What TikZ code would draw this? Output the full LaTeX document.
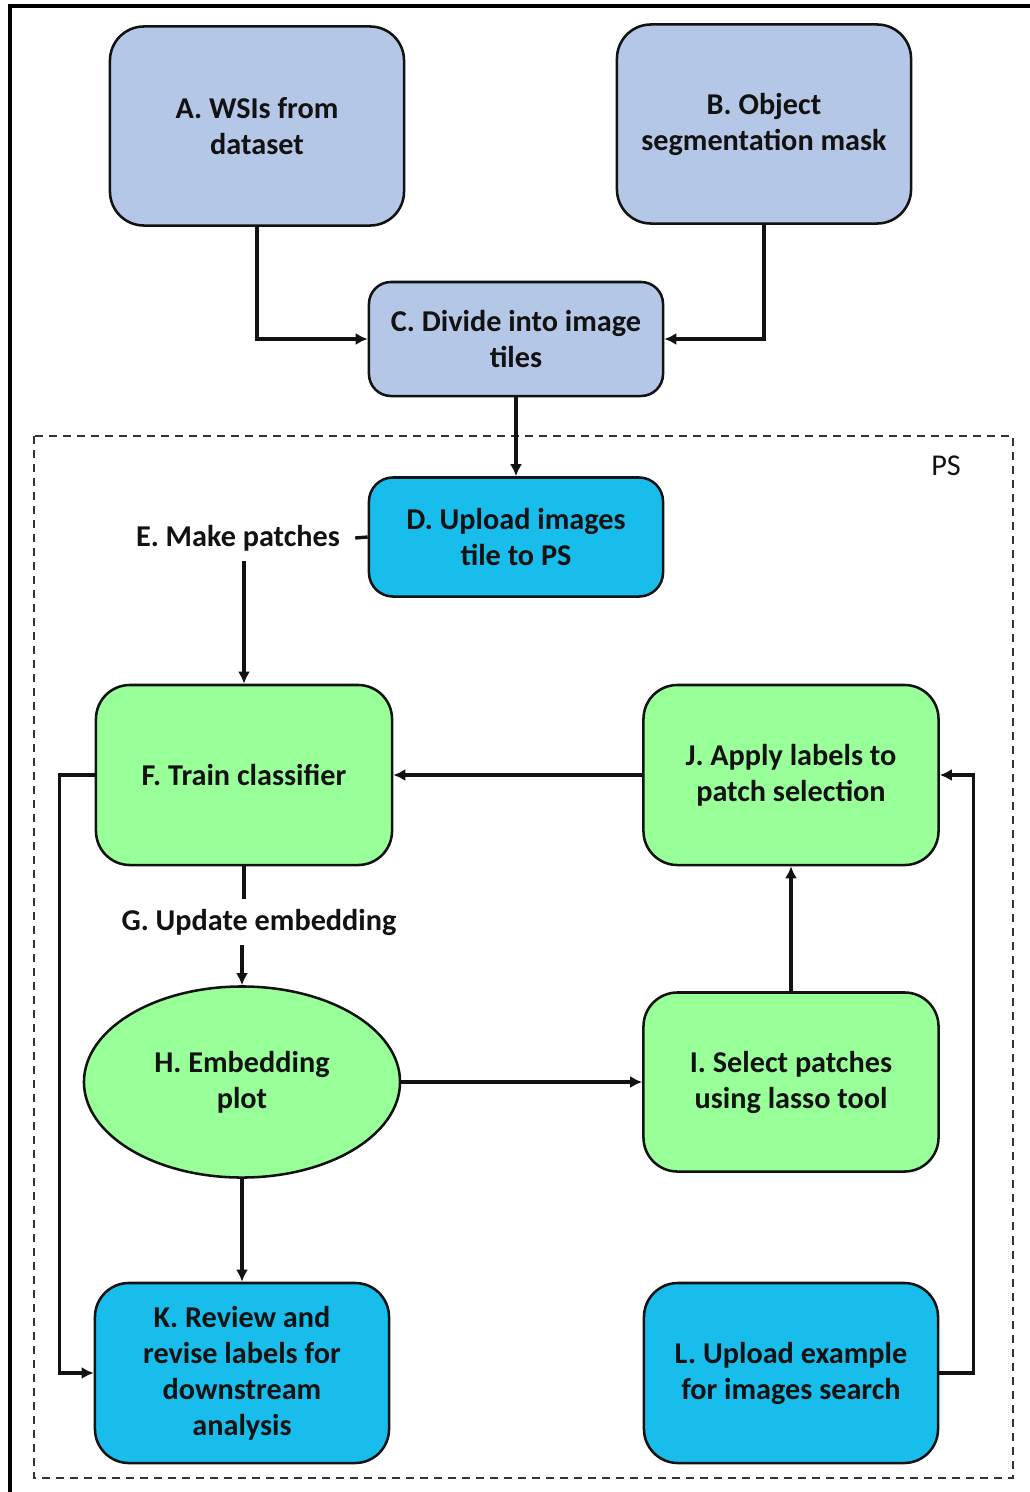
\documentclass[tikz,border=0pt]{standalone}
\usepackage{fontspec}
\setmainfont{Carlito}
\usepackage{xcolor}
\usetikzlibrary{arrows.meta,positioning,shapes.geometric,calc}
\definecolor{Ink}{HTML}{121212}
\definecolor{SoftBlue}{HTML}{B4C7E7}
\definecolor{Cyan}{HTML}{19BDEC}
\definecolor{SoftGreen}{HTML}{99FF99}
\definecolor{DashGrey}{HTML}{333333}
\tikzset{
  boxfont/.style={font=\fontsize{21.5}{25.6}\selectfont\bfseries,text=Ink,align=center},
  source/.style={boxfont,draw=Ink,fill=SoftBlue,line width=1.8pt,rounded corners=0.85cm,minimum width=7.35cm,minimum height=4.975cm},
  prep/.style={boxfont,draw=Ink,fill=SoftBlue,line width=1.8pt,rounded corners=0.55cm,minimum width=7.35cm,minimum height=2.85cm},
  upload/.style={boxfont,draw=Ink,fill=Cyan,line width=1.8pt,rounded corners=0.85cm,minimum width=7.35cm,minimum height=4.5cm},
  task/.style={boxfont,draw=Ink,fill=SoftGreen,line width=1.8pt,rounded corners=0.85cm,minimum width=7.4cm,minimum height=4.5cm},
  plotnode/.style={boxfont,draw=Ink,fill=SoftGreen,line width=1.8pt,ellipse,minimum width=7.9cm,minimum height=4.775cm,inner sep=0pt},
  steplabel/.style={boxfont,inner xsep=0.375cm,inner ysep=0.25cm},
  flow/.style={-{Latex[length=0.3cm,width=0.3cm]},line width=2.4pt,color=Ink},
  plain/.style={line width=2.4pt,color=Ink},
  frame/.style={line width=3.2pt,color=black},
  psbox/.style={dashed,dash pattern=on 0.2cm off 0.15cm,line width=1.2pt,color=DashGrey}
}
\begin{document}
\begin{tikzpicture}[x=0.025cm,y=-0.025cm]
  \useasboundingbox[fill=white] (0,0) rectangle (1030,1492);
  \draw[frame] (10,1492) -- (10,6) -- (1030,6);
  \draw[psbox] (34,436) rectangle (1013,1478);
  \node[font=\fontsize{21.5}{25.6}\selectfont,text=Ink] (pslabel) at (946,466) {PS};

  \node[source] (wsi) at (257,126) {A. WSIs from\\dataset};
  \node[source] (mask) at (764,124) {B. Object\\segmentation mask};
  \node[prep] (tiles) at (516,339) {C. Divide into image\\tiles};
  \node[prep,fill=Cyan,minimum height=2.975cm,rounded corners=0.6cm] (upps) at (516,537) {D. Upload images\\tile to PS};
  \node[steplabel] (mkpatch) at (238,538) {E. Make patches};
  \node[task] (train) at (244,775) {F. Train classifier};
  \node[task,minimum width=7.375cm] (apply) at (791,775) {J. Apply labels to\\patch selection};
  \node[steplabel] (upemb) at (259,922) {G. Update embedding};
  \node[plotnode] (embplot) at (242,1082) {H. Embedding\\plot};
  \node[task,minimum width=7.375cm,minimum height=4.475cm] (lasso) at (791,1082) {I. Select patches\\using lasso tool};
  \node[upload] (review) at (242,1373) {K. Review and\\revise labels for\\downstream\\analysis};
  \node[upload] (search) at (791,1373) {L. Upload example\\for images search};

  \draw[flow] (wsi.south) |- (tiles.west);
  \draw[flow] (mask.south) |- (tiles.east);
  \draw[flow] (tiles.south) -- (upps.north);
  \draw[plain] (upps.west) -- (mkpatch.east);
  \draw[flow] (mkpatch.south -| train.north) -- (train.north);
  \draw[flow] (apply.west) -- (train.east);
  \draw[flow] (train.west) -- ++(-35,0) |- (review.west);
  \draw[plain] (train.south) -- (upemb.north -| train.south);
  \draw[flow] (upemb.south -| embplot.north) -- (embplot.north);
  \draw[flow] (embplot.east) -- (lasso.west);
  \draw[flow] (lasso.north) -- (apply.south);
  \draw[flow] (embplot.south) -- (review.north);
  \draw[flow] (search.east) -- ++(34,0) |- (apply.east);
\end{tikzpicture}
\end{document}
